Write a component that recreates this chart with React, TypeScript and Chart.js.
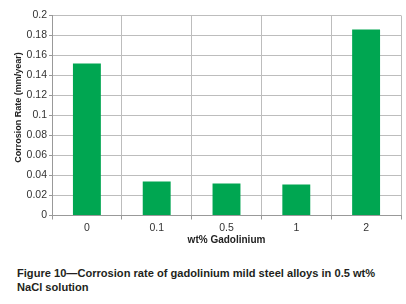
import React, { useEffect, useRef } from "react";
import { Chart, registerables } from "chart.js";

Chart.register(...registerables);

const categories = ["0", "0.1", "0.5", "1", "2"];
const corrosionRate = [0.152, 0.034, 0.032, 0.031, 0.186];
const yTitle = "Corrosion Rate (mm/year)";
const xTitle = "wt% Gadolinium";
const captionLines = [
  "Figure 10\u2014Corrosion rate of gadolinium mild steel alloys in 0.5 wt%",
  "NaCl solution",
];

const FONT = "'Liberation Sans', Arial, sans-serif";

const titlePlugin = {
  id: "axisTitles",
  afterDraw(chart: any) {
    const ctx = chart.ctx;
    const area = chart.chartArea;
    ctx.save();
    ctx.fillStyle = "#222";
    ctx.textAlign = "center";
    ctx.textBaseline = "middle";
    ctx.font = `bold 9px ${FONT}`;
    ctx.translate(18.5, area.top + (area.bottom - area.top) * 0.46);
    ctx.rotate(-Math.PI / 2);
    ctx.fillText(yTitle, 0, 0);
    ctx.restore();
    ctx.save();
    ctx.fillStyle = "#222";
    ctx.textAlign = "center";
    ctx.textBaseline = "middle";
    ctx.font = `bold 10px ${FONT}`;
    ctx.fillText(xTitle, (area.left + area.right) / 2, area.bottom + 24.5);
    ctx.restore();
  },
};

export default function App() {
  const ref = useRef<HTMLCanvasElement | null>(null);
  useEffect(() => {
    if (!ref.current) return;
    const chart = new Chart(ref.current, {
      type: "bar",
      data: {
        labels: categories,
        datasets: [
          {
            data: corrosionRate,
            backgroundColor: "#00a651",
            borderWidth: 0,
            categoryPercentage: 1,
            barPercentage: 0.4,
          },
        ],
      },
      plugins: [titlePlugin],
      options: {
        animation: false,
        responsive: false,
        maintainAspectRatio: false,
        devicePixelRatio: 1,
        layout: { padding: { top: 15.5, right: 5, left: 0, bottom: 0 } },
        plugins: { legend: { display: false }, tooltip: { enabled: false } },
        scales: {
          x: {
            afterFit: (s: any) => {
              s.height = 34.5;
            },
            grid: {
              offset: true,
              color: "#bdbdbd",
              tickColor: "#999",
              tickLength: 4,
              lineWidth: 1,
            },
            border: { color: "#999" },
            ticks: {
              color: "#333",
              font: { family: FONT, size: 10.5 },
              padding: 2,
            },
          },
          y: {
            min: 0,
            max: 0.2,
            afterFit: (s: any) => {
              s.width = 52;
            },
            grid: {
              color: "#bdbdbd",
              tickColor: "#999",
              tickLength: 3,
              lineWidth: 1,
            },
            border: { color: "#999" },
            ticks: {
              stepSize: 0.02,
              color: "#333",
              font: { family: FONT, size: 10.5 },
              padding: 2,
              callback: (v: any) => String(+Number(v).toFixed(2)),
            },
          },
        },
      },
    });
    return () => chart.destroy();
  }, []);

  return (
    <div
      style={{
        position: "absolute",
        left: 0,
        top: 0,
        width: 406,
        height: 304,
        background: "#fff",
        overflow: "hidden",
      }}
    >
      <canvas
        ref={ref}
        width={406}
        height={250}
        style={{ position: "absolute", left: 0, top: 0, width: 406, height: 250 }}
      />
      <div
        style={{
          position: "absolute",
          left: 17,
          top: 266,
          fontFamily: FONT,
          fontWeight: "bold",
          fontSize: 11.1,
          lineHeight: "14px",
          color: "#231f20",
          whiteSpace: "nowrap",
        }}
      >
        {captionLines.map((l, i) => (
          <div key={i}>{l}</div>
        ))}
      </div>
    </div>
  );
}
